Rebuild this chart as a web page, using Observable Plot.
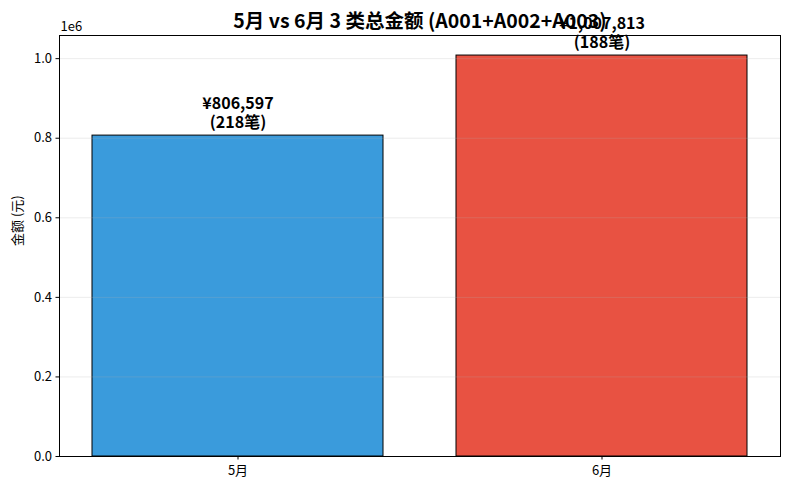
<!DOCTYPE html>
<html>
<head>
<meta charset="utf-8">
<script src="https://cdn.jsdelivr.net/npm/d3@7"></script>
<script src="https://cdn.jsdelivr.net/npm/@observablehq/plot@0.6"></script>
<style>
  html, body { margin: 0; padding: 0; background: white; }
</style>
</head>
<body>
<div id="chart"></div>
<script>
const months = ["5月", "6月"];
const amounts = [806597, 1007813];
const counts = [218, 188];
const yTicks = [0, 200000, 400000, 600000, 800000, 1000000];
const titleText = "5月 vs 6月 3 类总金额 (A001+A002+A003)";
const yLabel = "金额 (元)";

const data = months.map((m, i) => ({month: m, amount: amounts[i], count: counts[i]}));
const fmt = d3.format(",");
const font = "'Noto Sans CJK SC', 'Noto Sans', sans-serif";

const chart = Plot.plot({
  width: 790,
  height: 490,
  marginTop: 35,
  marginLeft: 59,
  marginRight: 10,
  marginBottom: 34,
  style: {fontFamily: font, fontSize: "13px", color: "black", background: "white", overflow: "visible"},
  x: {domain: months, paddingInner: 0.2, paddingOuter: 0.09, label: null},
  y: {domain: [0, 1007813 * 1.05], label: null},
  color: {domain: months, range: ["#3498db", "#e74c3c"]},
  marks: [
    Plot.barY(data, {x: "month", y: "amount", fill: "month", stroke: "black", strokeWidth: 1, fillOpacity: 0.97}),
    Plot.gridY(yTicks, {stroke: "#b0b0b0", strokeOpacity: 0.3, strokeWidth: 0.8}),
    Plot.axisY({ticks: yTicks, tickFormat: d => (d / 1e6).toFixed(1), tickSize: 3.5, tickPadding: 4, label: null, fontSize: 13}),
    Plot.axisX({tickSize: 3.5, tickPadding: 6, label: null, fontSize: 13}),
    Plot.frame({stroke: "black", strokeWidth: 1}),
    Plot.text(data, {
      x: "month", y: "amount",
      text: d => `¥${fmt(d.amount)}\n(${d.count}笔)`,
      lineAnchor: "middle", dy: -23, lineHeight: 1.2,
      fontSize: 16, fontWeight: "bold", fill: "black"
    }),
    Plot.text([titleText], {frameAnchor: "top", dy: -14, lineAnchor: "middle", fontSize: 19.5, fontWeight: "bold", fill: "black"}),
    Plot.text(["1e6"], {frameAnchor: "top-left", dx: 1, dy: -9, textAnchor: "start", lineAnchor: "middle", fontSize: 13, fill: "black"}),
    Plot.text([yLabel], {frameAnchor: "left", dx: -42, rotate: -90, fontSize: 13, fill: "black"})
  ]
});
document.getElementById("chart").appendChild(chart);
</script>
</body>
</html>
